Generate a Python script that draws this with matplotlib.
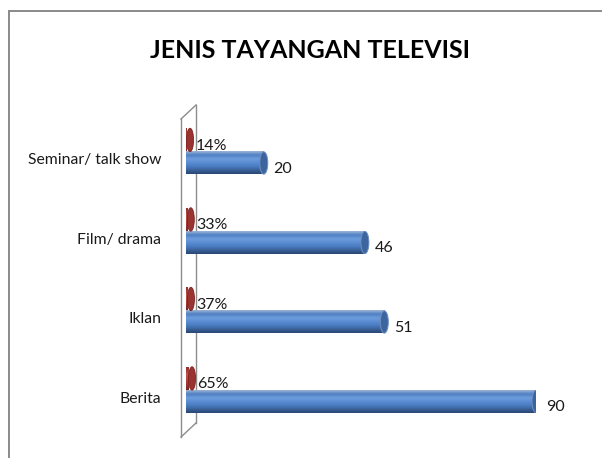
import matplotlib.pyplot as plt
import numpy as np
from matplotlib.patches import Ellipse
from matplotlib.lines import Line2D
from matplotlib.colors import LinearSegmentedColormap

plt.rcParams['font.family'] = ['Lato', 'DejaVu Sans']

categories = ["Berita", "Iklan", "Film/ drama", "Seminar/ talk show"]
counts = [90, 51, 46, 20]
percents = [65, 37, 33, 14]

W, H = 602, 458


def px(x, y):
    # pixel position (from top-left) -> figure fraction
    return x / W, 1 - y / H


fig = plt.figure(figsize=(W / 100, H / 100), dpi=100)

# outer chart border (top and left only visible)
x0, y0 = px(9, 11)
fig.add_artist(Line2D([x0, x0], [0, y0], color="#8a8a8a", lw=1.4))
fig.add_artist(Line2D([x0, 1], [y0, y0], color="#8a8a8a", lw=1.4))

# 3D wall behind the bars
wall = [((181, 119), (181, 437)), ((196, 105), (196, 423)),
        ((181, 119), (196, 105)), ((181, 437), (196, 423))]
for a, b in wall:
    pa, pb = px(*a), px(*b)
    fig.add_artist(Line2D([pa[0], pb[0]], [pa[1], pb[1]],
                          color="#8c8c8c", lw=1.0, zorder=-1))

ax = fig.add_axes([186 / W, (H - 440) / H, 350 / W, 340 / H])
ax.axis("off")

bar_h = 0.28
red_off = 0.29
xpx = 350 / 90  # pixels per unit

blue_cmap = LinearSegmentedColormap.from_list(
    "blue", ["#9db4d6", "#4d7ec2", "#6d9ddc", "#5a8cd3", "#4a7cc2", "#3a6299", "#2a4673"])
red_cmap = LinearSegmentedColormap.from_list(
    "red", ["#8e2d2b", "#c2524f", "#a83c39", "#7a2321"])
grad = np.linspace(0, 1, 64).reshape(-1, 1)

ys = np.arange(len(categories))
for y, v, p, cat in zip(ys, counts, percents, categories):
    # blue cylinder
    ax.imshow(grad, cmap=blue_cmap, aspect="auto", origin="upper",
              extent=(0, v, y - bar_h / 2, y + bar_h / 2),
              interpolation="bicubic", zorder=2)
    ax.add_patch(Ellipse((v, y), width=8 / xpx, height=bar_h,
                         facecolor="#3c659f", edgecolor="#6d8fbf", lw=0.7, zorder=3))
    ax.annotate(str(v), (v, y), textcoords="offset points", xytext=(7, -4),
                ha="left", va="center", fontsize=11.5, color="#1a1a1a")

    # red (percentage) cylinder - almost zero length
    yr = y + red_off
    pv = p / 100
    ax.imshow(grad, cmap=red_cmap, aspect="auto", origin="upper",
              extent=(0, pv, yr - bar_h / 2, yr + bar_h / 2),
              interpolation="bicubic", zorder=2)
    ax.add_patch(Ellipse((pv + 3.5 / xpx, yr), width=7 / xpx, height=bar_h * 1.05,
                         facecolor="#9a3431", edgecolor="#7a2220", lw=0.6, zorder=3))
    ax.annotate(f"{p}%", (pv, yr), textcoords="offset points", xytext=(6.5, -4),
                ha="left", va="center", fontsize=11.5, color="#1a1a1a")

    # category label
    ax.annotate(cat, (0, y), textcoords="offset points", xytext=(-18, 2),
                ha="right", va="center", fontsize=11.3, color="#1a1a1a",
                annotation_clip=False)

ax.set_xlim(0, 90)
ax.set_ylim(-(440 - 401.5) / 79.5, (401.5 - 100) / 79.5)

tx, ty = px(310, 51)
fig.text(tx, ty, "JENIS TAYANGAN TELEVISI", ha="center", va="center",
         fontsize=18, fontweight="bold", color="black")

fig.savefig("out.png", dpi=100)
